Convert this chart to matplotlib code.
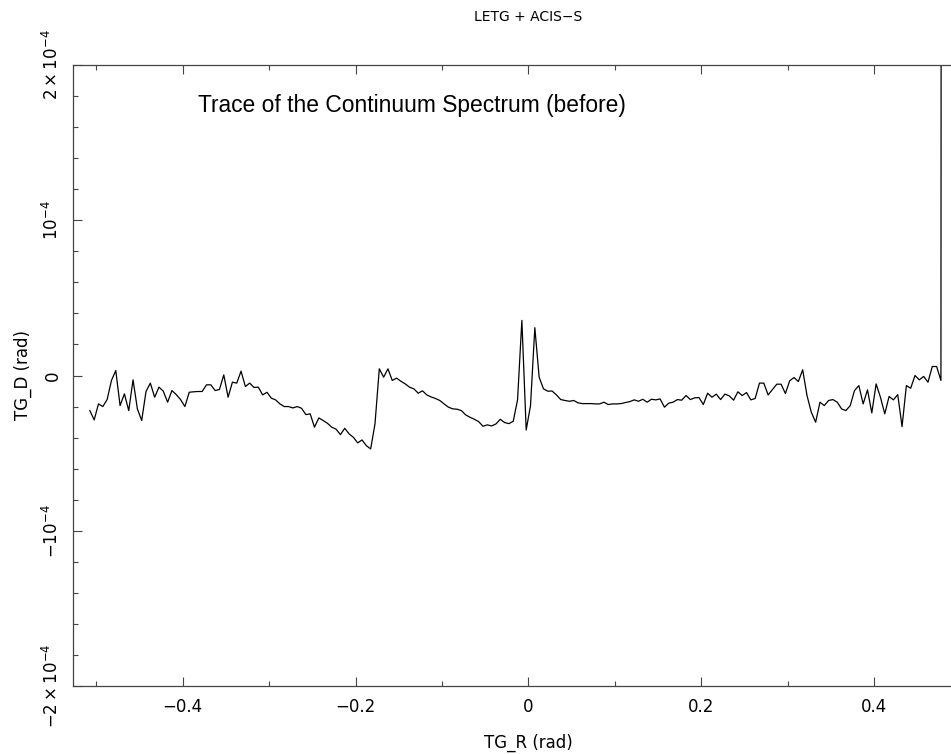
import numpy as np
import matplotlib
matplotlib.use("Agg")
import matplotlib.pyplot as plt
from matplotlib.ticker import MultipleLocator, FixedLocator, FixedFormatter

# TG_R bin centres (0.005 rad bins)
tg_r = np.arange(-0.5075, 0.4850, 0.005)

# mean TG_D per bin, in units of 1e-5 rad
tg_d_e5 = [
    -2.26, -2.86, -1.83, -2.00, -1.55, -0.32, 0.32, -1.94, -1.18, -2.26,
    -0.28, -2.15, -2.90, -1.03, -0.49, -1.40, -0.75, -1.01, -1.72, -0.97,
    -1.23, -1.55, -2.00, -1.08, -1.05, -1.03, -1.03, -0.60, -0.60, -0.97,
    -0.90, 0.04, -1.40, -0.43, -0.49, 0.28, -0.71, -0.49, -0.77, -0.75,
    -1.25, -1.08, -1.46, -1.57, -1.83, -2.00, -2.00, -2.09, -2.00, -2.11,
    -2.52, -2.47, -3.33, -2.73, -2.90, -3.08, -3.33, -3.46, -3.81, -3.40,
    -3.76, -3.98, -4.34, -4.15, -4.52, -4.73, -3.12, 0.43, -0.11, 0.43,
    -0.32, -0.17, -0.37, -0.54, -0.75, -0.86, -1.14, -0.99, -1.25, -1.38,
    -1.48, -1.61, -1.83, -2.04, -2.15, -2.17, -2.26, -2.54, -2.69, -2.82,
    -2.97, -3.27, -3.18, -3.25, -3.12, -2.82, -3.03, -3.10, -2.95, -1.57,
    3.55, -3.51, -1.94, 3.08, -0.11, -0.86, -1.01, -1.00, -1.25, -1.55,
    -1.61, -1.66, -1.61, -1.76, -1.81, -1.81, -1.81, -1.83, -1.83, -1.72,
    -1.87, -1.83, -1.83, -1.81, -1.74, -1.68, -1.57, -1.66, -1.53, -1.72,
    -1.53, -1.57, -1.51, -2.04, -1.78, -1.72, -1.55, -1.59, -1.29, -1.55,
    -1.44, -1.42, -1.87, -1.14, -1.40, -1.20, -1.55, -1.20, -1.31, -1.59,
    -1.05, -1.29, -1.10, -1.57, -1.48, -0.49, -0.49, -1.25, -0.90, -0.56,
    -0.56, -1.16, -0.34, -0.13, -0.39, 0.37, -1.29, -2.37, -3.01, -1.72,
    -1.94, -1.61, -1.55, -1.72, -2.15, -2.26, -1.94, -0.97, -0.65, -1.83,
    -0.92, -2.41, -0.54, -1.40, -2.47, -1.35, -1.57, -1.23, -3.29, -0.65,
    -0.82, 0.00, -0.28, -0.06, -0.43, 0.58, 0.58, -0.32, 500.0,
]
tg_d = np.array(tg_d_e5) * 1e-5

y_ticks = [-2e-4, -1e-4, 0.0, 1e-4, 2e-4]
y_labels = [r"$-2\times10^{-4}$", r"$-10^{-4}$", "0", r"$10^{-4}$", r"$2\times10^{-4}$"]
x_ticks = [-0.4, -0.2, 0.0, 0.2, 0.4]
x_labels = ["\u22120.4", "\u22120.2", "0", "0.2", "0.4"]

W, H = 951, 754
fig = plt.figure(figsize=(W / 100, H / 100), dpi=100)
# axes run past the right edge of the canvas
ax = fig.add_axes([73 / W, 68 / H, 910.7 / W, 621 / H])

ax.plot(tg_r[:len(tg_d)], tg_d, color="black", lw=0.9)

ax.set_xlim(-0.527, 0.527)
ax.set_ylim(-2e-4, 2e-4)

ax.xaxis.set_major_locator(FixedLocator(x_ticks))
ax.xaxis.set_major_formatter(FixedFormatter(x_labels))
ax.xaxis.set_minor_locator(MultipleLocator(0.1))
ax.yaxis.set_major_locator(FixedLocator(y_ticks))
ax.yaxis.set_major_formatter(FixedFormatter(y_labels))
ax.yaxis.set_minor_locator(MultipleLocator(2e-5))

spine_col = "#444444"
for sp in ax.spines.values():
    sp.set_color(spine_col)
    sp.set_linewidth(0.9)

ax.tick_params(which="both", direction="in", top=True, right=False,
               color=spine_col, width=0.8, labelsize=12)
ax.tick_params(which="major", length=6.5)
ax.tick_params(which="minor", length=3.3)
ax.tick_params(axis="x", which="major", pad=9)
ax.tick_params(axis="y", which="major", pad=8)
for lab in ax.get_yticklabels():
    lab.set_rotation(90)
    lab.set_va("center")

ax.text(0.5, 1 + 48 / 621, "LETG + ACIS\u2212S", transform=ax.transAxes,
        ha="center", va="center", fontsize=10)
fig.text(528 / W, 1 - 743 / H, "TG_R (rad)", ha="center", va="center", fontsize=12)
fig.text(23 / W, 1 - 375 / H, "TG_D (rad)", ha="center", va="center",
         rotation=90, fontsize=12)

ax.text(-0.382, 1.70e-4, "Trace of the Continuum Spectrum (before)",
        family="Liberation Sans", fontsize=16.4, ha="left", va="baseline")

fig.savefig("out.png", dpi=100)
